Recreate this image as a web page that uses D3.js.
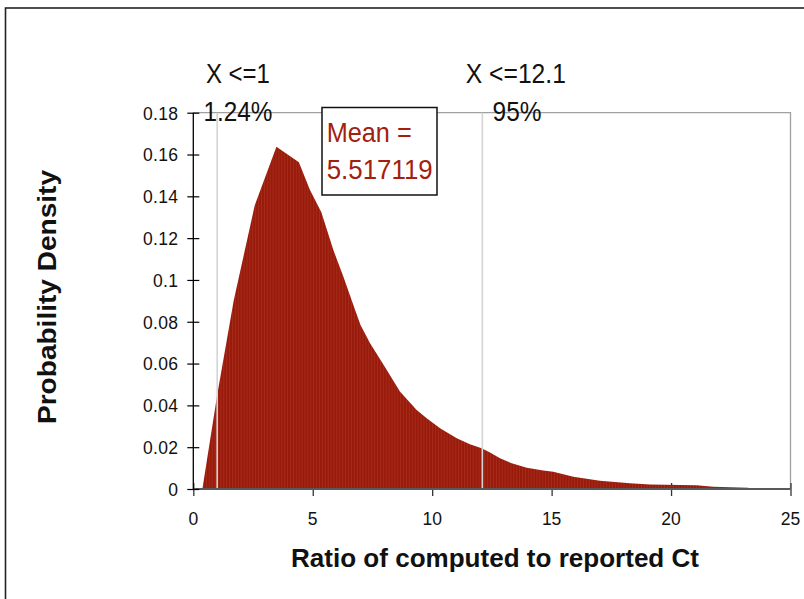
<!DOCTYPE html>
<html>
<head>
<meta charset="utf-8">
<script src="https://cdn.jsdelivr.net/npm/d3@7"></script>
<style>
  html, body { margin: 0; padding: 0; background: #fff; }
  svg { display: block; font-family: "Liberation Sans", Arial, sans-serif; }
</style>
</head>
<body>
<svg id="chart" width="804" height="599"></svg>
<script>
// ---- data ----
const ratioX = [0.38, 1.0, 1.69, 2.57, 3.48, 4.42, 4.88, 5.36, 5.86, 6.28, 6.70, 7.0, 7.40, 8.10, 8.65, 9.35, 9.77, 10.33, 11.03, 11.58, 12.07, 12.42, 12.84, 13.33, 13.96, 14.65, 15.07, 15.91, 17.02, 18.28, 19.12, 21.07, 21.77, 23.23, 23.27];
const density = [0, 0.045, 0.090, 0.1356, 0.1637, 0.1563, 0.1431, 0.1324, 0.1144, 0.1016, 0.0880, 0.0785, 0.0697, 0.0569, 0.0466, 0.0378, 0.0338, 0.0290, 0.0243, 0.0214, 0.0195, 0.0174, 0.0147, 0.0123, 0.0102, 0.0088, 0.0083, 0.0059, 0.0040, 0.0027, 0.0022, 0.0018, 0.0011, 0.0006, 0];
const xTicks = [0, 5, 10, 15, 20, 25];
const yTicks = [0, 0.02, 0.04, 0.06, 0.08, 0.10, 0.12, 0.14, 0.16, 0.18];
const yTickLabels = ["0", "0.02", "0.04", "0.06", "0.08", "0.1", "0.12", "0.14", "0.16", "0.18"];
const markerX = [1, 12.1];
const markerLabels = ["X <=1", "X <=12.1"];
const markerPcts = ["1.24%", "95%"];
const meanLines = ["Mean =", "5.517119"];
const xTitle = "Ratio of computed to reported Ct";
const yTitle = "Probability Density";

// ---- layout ----
const svg = d3.select("#chart");
const plot = { left: 193.3, right: 790.5, top: 112.7, bottom: 489 };
const x = d3.scaleLinear().domain([0, 25]).range([plot.left, plot.right]);
const y = d3.scaleLinear().domain([0, 0.18]).range([plot.bottom, plot.top]);
const fillColor = "#991a0a";
const textRed = "#a3200f";

// outer frame
svg.append("rect").attr("x", 5.5).attr("y", 8).attr("width", 900).attr("height", 700)
  .attr("fill", "none").attr("stroke", "#222").attr("stroke-width", 1.6);

// stripe pattern for the histogram-like fill
const defs = svg.append("defs");
const pat = defs.append("pattern").attr("id", "stripes").attr("patternUnits", "userSpaceOnUse")
  .attr("width", 2.9).attr("height", 10);
pat.append("rect").attr("width", 2.9).attr("height", 10).attr("fill", fillColor);
pat.append("rect").attr("width", 0.7).attr("height", 10).attr("fill", "#b03a28").attr("opacity", 0.75);

// plot area border (top & right, gray)
svg.append("path")
  .attr("d", `M${plot.left},${plot.top}H${plot.right}V${plot.bottom}`)
  .attr("fill", "none").attr("stroke", "#a0a0a0").attr("stroke-width", 1.3);

// x ticks (crossing) drawn first
const xAxis = svg.append("g").attr("transform", `translate(0,${plot.bottom})`)
  .call(d3.axisBottom(x).tickValues(xTicks).tickSize(7).tickFormat(""));
xAxis.select(".domain").remove();
xAxis.selectAll(".tick line").attr("y1", -6).attr("y2", 7).attr("stroke", "#333").attr("stroke-width", 1.3);

// area
const area = d3.area().x((d, i) => x(ratioX[i])).y0(y(0)).y1((d) => y(d)).curve(d3.curveLinear);
svg.append("path").datum(density).attr("d", area).attr("fill", "url(#stripes)");

// marker lines
svg.selectAll(".marker").data(markerX).enter().append("line")
  .attr("x1", d => x(d)).attr("x2", d => x(d))
  .attr("y1", y(0.18)).attr("y2", y(0))
  .attr("stroke", "#d4d4d4").attr("stroke-width", 1.6);

// x axis line & labels
svg.append("line").attr("x1", x(0)).attr("x2", x(25)).attr("y1", y(0)).attr("y2", y(0))
  .attr("stroke", "#5a5a5a").attr("stroke-width", 2);
svg.selectAll(".xlab").data(xTicks).enter().append("text")
  .attr("x", d => x(d)).attr("y", 525).attr("text-anchor", "middle")
  .style("font-size", "17.5px").attr("fill", "#111").text(d => d);

// y axis
const yAxis = svg.append("g").attr("transform", `translate(${plot.left},0)`)
  .call(d3.axisLeft(y).tickValues(yTicks).tickSize(6).tickFormat((d, i) => yTickLabels[i]));
yAxis.attr("font-size", null).attr("font-family", null);
yAxis.selectAll(".tick line").attr("x1", -6).attr("x2", 6).attr("stroke", "#000").attr("stroke-width", 1.2);
yAxis.selectAll(".tick text").attr("x", -15).attr("dy", "0.36em")
  .style("font-size", "17.5px").attr("fill", "#111")
  .style("font-family", "'Liberation Sans', Arial, sans-serif")
  .style("letter-spacing", "0.3px");
yAxis.selectAll(".domain").remove();
svg.append("line").attr("x1", plot.left).attr("x2", plot.left).attr("y1", y(0.18)).attr("y2", y(0))
  .attr("stroke", "#000").attr("stroke-width", 1.3);

// marker annotations
const markerText = [
  { dx: -11.3, w: 64 },
  { dx: -16.5, w: 100 }
];
markerX.forEach((m, i) => {
  svg.append("text").attr("x", x(m) + markerText[i].dx).attr("y", 83.3)
    .attr("font-size", 28).attr("fill", "#111")
    .attr("textLength", markerText[i].w).attr("lengthAdjust", "spacingAndGlyphs")
    .text(markerLabels[i]);
});
const pctPos = [{ dx: -13.7, w: 69 }, { dx: 10.2, w: 49 }];
markerX.forEach((m, i) => {
  svg.append("text").attr("x", x(m) + pctPos[i].dx).attr("y", 120.7)
    .attr("font-size", 28).attr("fill", "#111")
    .attr("textLength", pctPos[i].w).attr("lengthAdjust", "spacingAndGlyphs")
    .text(markerPcts[i]);
});

// mean box
svg.append("rect").attr("x", 322).attr("y", 107.5).attr("width", 115).attr("height", 87.5)
  .attr("fill", "#fff").attr("stroke", "#111").attr("stroke-width", 1.5);
const meanW = [85, 106];
meanLines.forEach((t, i) => {
  svg.append("text").attr("x", 326.7).attr("y", 142.3 + i * 36.7)
    .attr("font-size", 27.5).attr("fill", textRed)
    .attr("textLength", meanW[i]).attr("lengthAdjust", "spacingAndGlyphs")
    .text(t);
});

// axis titles
svg.append("text").attr("x", 495).attr("y", 566.7).attr("text-anchor", "middle")
  .attr("font-size", 26).attr("font-weight", "bold").attr("fill", "#111")
  .attr("textLength", 408).attr("lengthAdjust", "spacingAndGlyphs")
  .text(xTitle);
svg.append("text").attr("transform", "translate(56,297) rotate(-90)").attr("text-anchor", "middle")
  .attr("font-size", 26).attr("font-weight", "bold").attr("fill", "#111")
  .attr("textLength", 254).attr("lengthAdjust", "spacingAndGlyphs")
  .text(yTitle);
</script>
</body>
</html>
